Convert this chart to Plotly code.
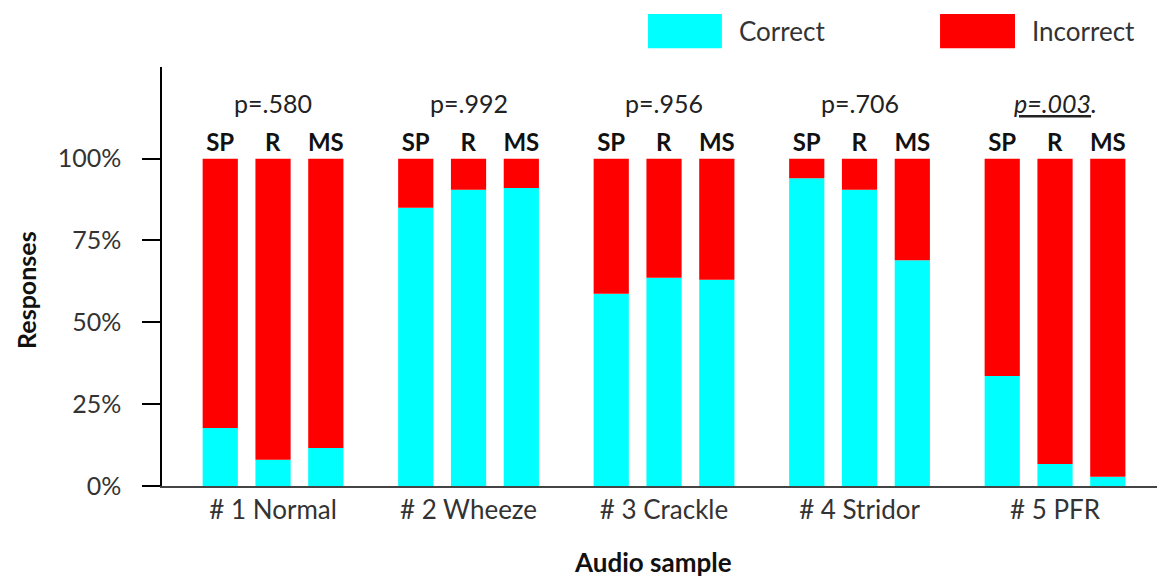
import plotly.graph_objects as go

samples = ["# 1 Normal", "# 2 Wheeze", "# 3 Crackle", "# 4 Stridor", "# 5 PFR"]
groups = ["SP", "R", "MS"]
# percent correct for each respondent group, per audio sample
correct = {
    "SP": [17.7, 85.0, 58.7, 94.0, 33.6],
    "R":  [8.0, 90.5, 63.6, 90.5, 6.7],
    "MS": [11.6, 91.0, 63.0, 69.0, 2.8],
}
p_values = ["p=.580", "p=.992", "p=.956", "p=.706", "<i><u>p=.003</u>.</i>"]
y_ticks = [0, 25, 50, 75, 100]
y_tick_text = ["0%", "25%", "50%", "75%", "100%"]

CYAN = "#00FFFF"
RED = "#FF0000"
FONT = "Lato"

fig = go.Figure()
for g in groups:
    corr = correct[g]
    incorr = [100 - c for c in corr]
    fig.add_trace(go.Bar(
        x=samples, y=corr, base=[0] * len(corr), name="Correct",
        offsetgroup=g, marker=dict(color=CYAN, line=dict(width=0)),
        showlegend=False,
    ))
    fig.add_trace(go.Bar(
        x=samples, y=incorr, base=corr, name="Incorrect",
        offsetgroup=g, marker=dict(color=RED, line=dict(width=0)),
        text=[f"<b>{g}</b>"] * len(corr), textposition="outside",
        constraintext="none", cliponaxis=False,
        textfont=dict(family=FONT, size=24, color="#111111"),
        showlegend=False,
    ))

annotations = []
for s, p in zip(samples, p_values):
    annotations.append(dict(
        x=s, y=117, xref="x", yref="y", text=p, showarrow=False,
        xanchor="center", yanchor="middle",
        font=dict(family=FONT, size=25, color="#222222"),
    ))

# axis titles
annotations.append(dict(
    text="<b>Responses</b>", xref="paper", yref="paper", x=0, y=0.468,
    xshift=-136, showarrow=False, textangle=-90,
    xanchor="center", yanchor="middle",
    font=dict(family=FONT, size=25, color="#111111"),
))
annotations.append(dict(
    text="<b>Audio sample</b>", xref="paper", yref="paper", x=0.492, y=-0.181,
    showarrow=False, xanchor="center", yanchor="middle",
    font=dict(family=FONT, size=26, color="#111111"),
))

# legend
legend_items = [("Correct", CYAN, 0.487, 0.561), ("Incorrect", RED, 0.7796, 0.8547)]
shapes = []
for label, col, x0, x1 in legend_items:
    shapes.append(dict(type="rect", xref="paper", yref="paper",
                       x0=x0, x1=x1, y0=1.045, y1=1.1265,
                       fillcolor=col, line=dict(width=0)))
    annotations.append(dict(
        text=label, xref="paper", yref="paper", x=x1 + 0.015, y=1.086,
        xanchor="left", yanchor="middle", showarrow=False,
        font=dict(family=FONT, size=26, color="#333333"),
    ))

fig.update_layout(
    width=1157, height=571,
    margin=dict(l=154, r=5, t=59, b=93),
    paper_bgcolor="white", plot_bgcolor="white",
    barmode="group", bargap=0.19, bargroupgap=0.333,
    annotations=annotations, shapes=shapes,
    font=dict(family=FONT, color="#333333"),
    showlegend=False,
)
fig.update_yaxes(
    range=[0, 128], tickvals=y_ticks, ticktext=y_tick_text,
    showline=True, linecolor="black", linewidth=1.5,
    ticks="outside", ticklen=18, tickwidth=1.5, tickcolor="black",
    ticklabelstandoff=16,
    tickfont=dict(family=FONT, size=25, color="#333333"),
    showgrid=False, zeroline=False,
)
fig.update_xaxes(
    range=[-0.568, 4.537], showline=True, linecolor="#444444", linewidth=2,
    ticks="", tickfont=dict(family=FONT, size=26, color="#333333"),
    showgrid=False,
)

fig.write_html("out.html")
